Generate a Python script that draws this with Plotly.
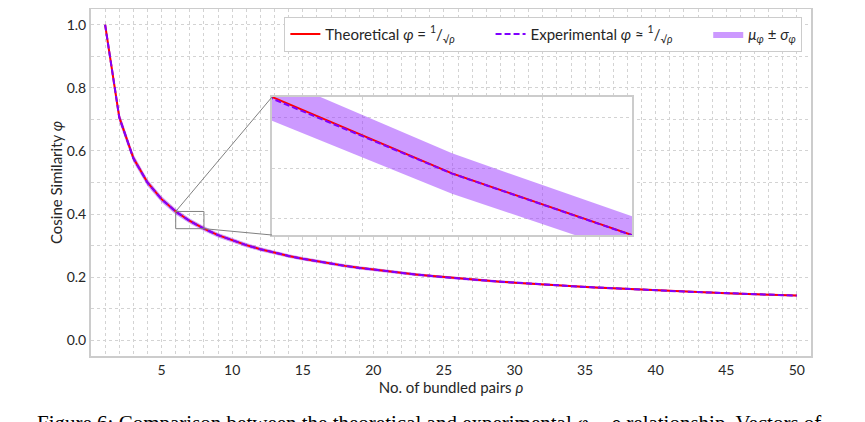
import plotly.graph_objects as go

# Nombre de paires regroupées
rho = list(range(1, 51))

# Courbe théorique phi = 1/sqrt(rho)
phi_theorique = [
    1.0000, 0.7071, 0.5774, 0.5000, 0.4472, 0.4082, 0.3780, 0.3536, 0.3333, 0.3162,
    0.3015, 0.2887, 0.2774, 0.2673, 0.2582, 0.2500, 0.2425, 0.2357, 0.2294, 0.2236,
    0.2182, 0.2132, 0.2085, 0.2041, 0.2000, 0.1961, 0.1925, 0.1890, 0.1857, 0.1826,
    0.1796, 0.1768, 0.1741, 0.1715, 0.1690, 0.1667, 0.1644, 0.1622, 0.1601, 0.1581,
    0.1562, 0.1543, 0.1525, 0.1508, 0.1491, 0.1474, 0.1459, 0.1443, 0.1429, 0.1414,
]

# Moyenne expérimentale
phi_experimental = [
    1.0000, 0.7068, 0.5770, 0.4996, 0.4469, 0.4076, 0.3779, 0.3535, 0.3331, 0.3161,
    0.3014, 0.2886, 0.2773, 0.2672, 0.2581, 0.2499, 0.2424, 0.2357, 0.2293, 0.2236,
    0.2181, 0.2132, 0.2084, 0.2041, 0.1999, 0.1961, 0.1924, 0.1890, 0.1857, 0.1825,
    0.1796, 0.1767, 0.1741, 0.1715, 0.1690, 0.1666, 0.1644, 0.1622, 0.1601, 0.1581,
    0.1561, 0.1543, 0.1525, 0.1507, 0.1491, 0.1474, 0.1458, 0.1443, 0.1428, 0.1414,
]

# Ecart-type expérimental
sigma_experimental = [
    0.0000, 0.0151, 0.0124, 0.0107, 0.0096, 0.0088, 0.0080, 0.0075, 0.0071, 0.0068,
    0.0065, 0.0062, 0.0060, 0.0057, 0.0055, 0.0054, 0.0052, 0.0051, 0.0049, 0.0048,
    0.0047, 0.0046, 0.0045, 0.0044, 0.0043, 0.0042, 0.0041, 0.0041, 0.0040, 0.0039,
    0.0039, 0.0038, 0.0037, 0.0037, 0.0036, 0.0036, 0.0035, 0.0035, 0.0034, 0.0034,
    0.0034, 0.0033, 0.0033, 0.0032, 0.0032, 0.0032, 0.0031, 0.0031, 0.0031, 0.0030,
]

x_ticks = [5, 10, 15, 20, 25, 30, 35, 40, 45, 50]
y_ticks = [0.0, 0.2, 0.4, 0.6, 0.8, 1.0]
y_tick_labels = ['0.0', '0.2', '0.4', '0.6', '0.8', '1.0']

# Zone zoomée
zoom_x = [6, 8]
zoom_y = [0.3536, 0.4082]

bande_basse = [m - s for m, s in zip(phi_experimental, sigma_experimental)]
bande_haute = [m + s for m, s in zip(phi_experimental, sigma_experimental)]

ROUGE = '#ff0000'
VIOLET = '#7f00ff'
BANDE = 'rgba(153, 51, 255, 0.5)'
GRILLE = '#d3d3d3'
CADRE = '#cccccc'
POLICE = 'Lato'

x_range = [0, 51]
y_range = [-0.05, 1.05]
inset_dom_x = [0.2514, 0.7514]
inset_dom_y = [0.3487, 0.7464]

# Coins de l'encart en coordonnées de données
ix0 = x_range[0] + inset_dom_x[0] * (x_range[1] - x_range[0])
ix1 = x_range[0] + inset_dom_x[1] * (x_range[1] - x_range[0])
iy0 = y_range[0] + inset_dom_y[0] * (y_range[1] - y_range[0])
iy1 = y_range[0] + inset_dom_y[1] * (y_range[1] - y_range[0])

fig = go.Figure()

# fond blanc de l'encart (cache la grille principale)
fig.add_trace(go.Scatter(x=[ix0, ix1, ix1, ix0, ix0], y=[iy0, iy0, iy1, iy1, iy0],
                         mode='lines', fill='toself', fillcolor='white', line=dict(width=0),
                         showlegend=False, hoverinfo='skip'))

for xa, ya, legende in [('x', 'y', True), ('x2', 'y2', False)]:
    fig.add_trace(go.Scatter(x=rho, y=bande_basse, mode='lines', line=dict(width=0),
                             xaxis=xa, yaxis=ya, showlegend=False, hoverinfo='skip'))
    fig.add_trace(go.Scatter(x=rho, y=bande_haute, mode='lines', line=dict(width=0),
                             fill='tonexty', fillcolor=BANDE, xaxis=xa, yaxis=ya,
                             name='<i>μ</i><sub><i>φ</i></sub> ± <i>σ</i><sub><i>φ</i></sub>',
                             showlegend=legende, legendrank=3))
    fig.add_trace(go.Scatter(x=rho, y=phi_theorique, mode='lines',
                             line=dict(color=ROUGE, width=2), xaxis=xa, yaxis=ya,
                             name='Theoretical <i>φ</i> = <sup>1</sup>/<sub>√<i>ρ</i></sub>        ',
                             showlegend=legende, legendrank=1))
    fig.add_trace(go.Scatter(x=rho, y=phi_experimental, mode='lines',
                             line=dict(color=VIOLET, width=2, dash='6px,3px'), xaxis=xa, yaxis=ya,
                             name='Experimental <i>φ</i> ≈ <sup>1</sup>/<sub>√<i>ρ</i></sub>        ',
                             showlegend=legende, legendrank=2))

shapes = [
    # rectangle de zoom
    dict(type='rect', xref='x', yref='y', x0=zoom_x[0], x1=zoom_x[1], y0=zoom_y[0], y1=zoom_y[1],
         line=dict(color='#808080', width=1)),
    # lignes de liaison
    dict(type='line', xref='x', yref='y', x0=zoom_x[0], y0=zoom_y[1], x1=ix0, y1=iy1,
         line=dict(color='#808080', width=1)),
    dict(type='line', xref='x', yref='y', x0=zoom_x[1], y0=zoom_y[0], x1=ix0, y1=iy0,
         line=dict(color='#808080', width=1)),
]

axe_commun = dict(showline=True, mirror=True, linecolor=CADRE, linewidth=2,
                  showgrid=True, gridcolor=GRILLE, griddash='dot', gridwidth=1,
                  zeroline=False, ticks='', automargin=False)

# la page ajoute une marge de 8 px autour de la figure
fig.update_layout(
    width=865, height=422,
    margin=dict(l=83, r=62, t=1, b=74),
    plot_bgcolor='white', paper_bgcolor='white',
    font=dict(family=POLICE, size=14, color='#262626'),
    xaxis=dict(range=x_range, tickvals=x_ticks, tickfont=dict(size=14),
               title=dict(text='No. of bundled pairs <i>ρ</i>', font=dict(size=15), standoff=3),
               minor=dict(dtick=1, tick0=0, showgrid=True, gridcolor=GRILLE, griddash='dot', gridwidth=1),
               **axe_commun),
    yaxis=dict(range=y_range, tickvals=y_ticks, ticktext=y_tick_labels, tickfont=dict(size=14),
               title=dict(text='Cosine Similarity <i>φ</i>', font=dict(size=15), standoff=0),
               minor=dict(dtick=0.1, tick0=0, showgrid=True, gridcolor=GRILLE, griddash='dot', gridwidth=1),
               **axe_commun),
    xaxis2=dict(domain=inset_dom_x, anchor='y2', range=zoom_x, dtick=0.5, tick0=6,
                showticklabels=False, **axe_commun),
    yaxis2=dict(domain=inset_dom_y, anchor='x2', range=zoom_y, dtick=0.02, tick0=0.36,
                showticklabels=False, **axe_commun),
    legend=dict(orientation='h', x=0.988, xanchor='right', y=0.978, yanchor='top',
                bgcolor='white', bordercolor=CADRE, borderwidth=1,
                font=dict(size=15), traceorder='normal'),
    shapes=shapes,
    showlegend=True,
)

# Légende de la figure (coupée en bas de la page)
fig.add_annotation(
    xref='paper', yref='paper', x=-0.078, y=-0.153, xanchor='left', yanchor='top',
    text='Figure 6: Comparison between the theoretical and experimental <i>φ</i> − <i>ρ</i> relationship. Vectors of',
    showarrow=False, font=dict(family='Liberation Serif', size=21, color='black'),
)

fig.write_html('out.html')
